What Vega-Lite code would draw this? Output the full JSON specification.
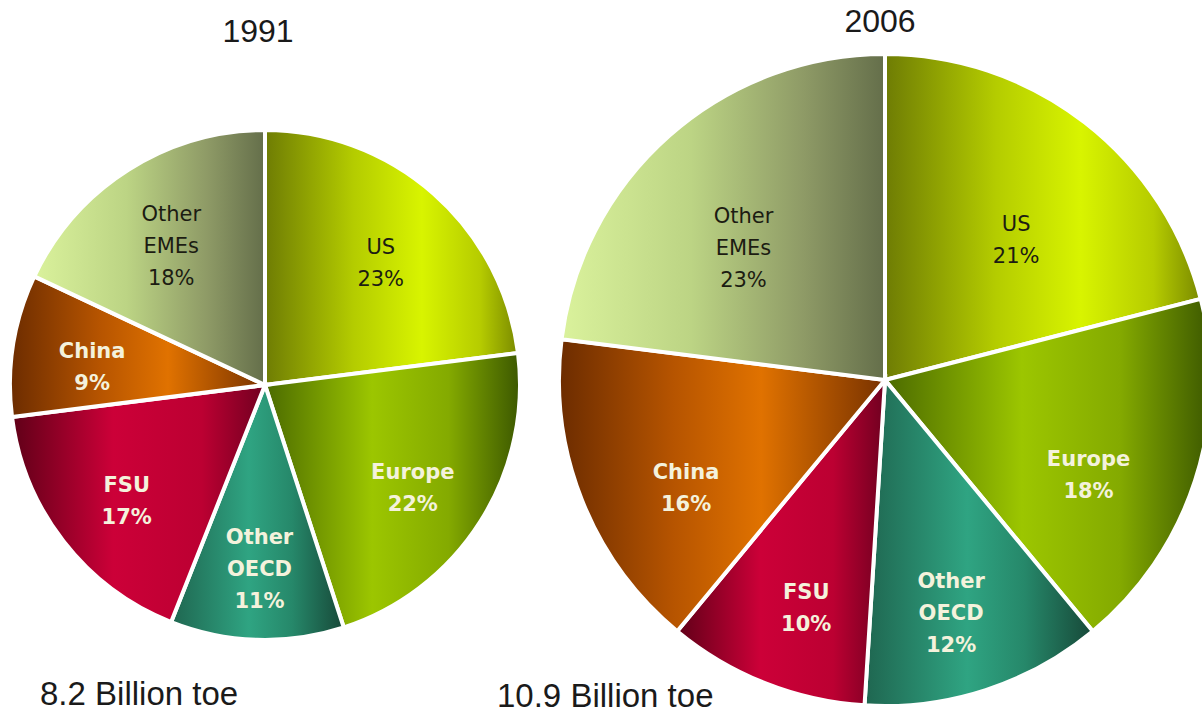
{
  "$schema": "https://vega.github.io/schema/vega-lite/v6.json",
  "width": 1202,
  "height": 713,
  "padding": 0,
  "autosize": {"type": "none"},
  "background": "white",
  "config": {"view": {"stroke": null}},
  "datasets": {
    "shares": [
      {"year": 1991, "total": 8.2, "order": 1, "region": "US", "share": 23, "label": "US\n23%"},
      {"year": 1991, "total": 8.2, "order": 2, "region": "Europe", "share": 22, "label": "Europe\n22%"},
      {"year": 1991, "total": 8.2, "order": 3, "region": "Other OECD", "share": 11, "label": "Other\nOECD\n11%"},
      {"year": 1991, "total": 8.2, "order": 4, "region": "FSU", "share": 17, "label": "FSU\n17%"},
      {"year": 1991, "total": 8.2, "order": 5, "region": "China", "share": 9, "label": "China\n9%"},
      {"year": 1991, "total": 8.2, "order": 6, "region": "Other EMEs", "share": 18, "label": "Other\nEMEs\n18%"},
      {"year": 2006, "total": 10.9, "order": 1, "region": "US", "share": 21, "label": "US\n21%"},
      {"year": 2006, "total": 10.9, "order": 2, "region": "Europe", "share": 18, "label": "Europe\n18%"},
      {"year": 2006, "total": 10.9, "order": 3, "region": "Other OECD", "share": 12, "label": "Other\nOECD\n12%"},
      {"year": 2006, "total": 10.9, "order": 4, "region": "FSU", "share": 10, "label": "FSU\n10%"},
      {"year": 2006, "total": 10.9, "order": 5, "region": "China", "share": 16, "label": "China\n16%"},
      {"year": 2006, "total": 10.9, "order": 6, "region": "Other EMEs", "share": 23, "label": "Other\nEMEs\n23%"}
    ],
    "totals": [
      {"year": 1991, "total": 8.2, "caption": "8.2 Billion toe"},
      {"year": 2006, "total": 10.9, "caption": "10.9 Billion toe"}
    ]
  },
  "data": {"name": "shares"},
  "layer": [
    {
      "transform": [
        {"stack": "share", "groupby": ["year"], "sort": [{"field": "order", "order": "ascending"}], "as": ["v0", "v1"]},
        {"filter": "datum.region === 'US'"}
      ],
      "mark": {"type": "arc", "stroke": "white", "strokeWidth": 4,
        "fill": {"gradient": "linear", "x1": 0, "y1": 0, "x2": 1, "y2": 0, "stops": [
          {"offset": 0, "color": "#6e7c04"}, {"offset": 0.35, "color": "#b4cc00"}, {"offset": 0.62, "color": "#d8f400"}, {"offset": 0.85, "color": "#b6cc00"}, {"offset": 1, "color": "#7a8a00"}]}},
      "encoding": {
        "x": {"field": "year", "type": "ordinal", "scale": {"type": "point", "domain": [1991, 2006], "range": [265, 885], "padding": 0}, "axis": null},
        "y": {"field": "year", "type": "ordinal", "scale": {"type": "point", "domain": [1991, 2006], "range": [385, 380], "padding": 0}, "axis": null},
        "theta": {"field": "v0", "type": "quantitative", "stack": null, "scale": {"domain": [0, 100]}},
        "theta2": {"field": "v1"},
        "radius": {"field": "total", "type": "quantitative", "stack": null, "scale": {"type": "linear", "zero": false, "domain": [8.2, 10.9], "range": [255, 326]}},
        "radius2": {"value": 0}
      }
    },
    {
      "transform": [
        {"stack": "share", "groupby": ["year"], "sort": [{"field": "order", "order": "ascending"}], "as": ["v0", "v1"]},
        {"filter": "datum.region === 'Europe'"}
      ],
      "mark": {"type": "arc", "stroke": "white", "strokeWidth": 4,
        "fill": {"gradient": "linear", "x1": 0, "y1": 0, "x2": 1, "y2": 0, "stops": [
          {"offset": 0, "color": "#4b6a00"}, {"offset": 0.42, "color": "#9cc600"}, {"offset": 0.72, "color": "#84aa00"}, {"offset": 1, "color": "#3c5800"}]}},
      "encoding": {
        "x": {"field": "year", "type": "ordinal", "scale": {"type": "point", "domain": [1991, 2006], "range": [265, 885], "padding": 0}, "axis": null},
        "y": {"field": "year", "type": "ordinal", "scale": {"type": "point", "domain": [1991, 2006], "range": [385, 380], "padding": 0}, "axis": null},
        "theta": {"field": "v0", "type": "quantitative", "stack": null, "scale": {"domain": [0, 100]}},
        "theta2": {"field": "v1"},
        "radius": {"field": "total", "type": "quantitative", "stack": null, "scale": {"type": "linear", "zero": false, "domain": [8.2, 10.9], "range": [255, 326]}},
        "radius2": {"value": 0}
      }
    },
    {
      "transform": [
        {"stack": "share", "groupby": ["year"], "sort": [{"field": "order", "order": "ascending"}], "as": ["v0", "v1"]},
        {"filter": "datum.region === 'Other OECD'"}
      ],
      "mark": {"type": "arc", "stroke": "white", "strokeWidth": 4,
        "fill": {"gradient": "linear", "x1": 0, "y1": 0, "x2": 1, "y2": 0, "stops": [
          {"offset": 0, "color": "#1f6650"}, {"offset": 0.45, "color": "#2fa482"}, {"offset": 0.7, "color": "#26886a"}, {"offset": 1, "color": "#174838"}]}},
      "encoding": {
        "x": {"field": "year", "type": "ordinal", "scale": {"type": "point", "domain": [1991, 2006], "range": [265, 885], "padding": 0}, "axis": null},
        "y": {"field": "year", "type": "ordinal", "scale": {"type": "point", "domain": [1991, 2006], "range": [385, 380], "padding": 0}, "axis": null},
        "theta": {"field": "v0", "type": "quantitative", "stack": null, "scale": {"domain": [0, 100]}},
        "theta2": {"field": "v1"},
        "radius": {"field": "total", "type": "quantitative", "stack": null, "scale": {"type": "linear", "zero": false, "domain": [8.2, 10.9], "range": [255, 326]}},
        "radius2": {"value": 0}
      }
    },
    {
      "transform": [
        {"stack": "share", "groupby": ["year"], "sort": [{"field": "order", "order": "ascending"}], "as": ["v0", "v1"]},
        {"filter": "datum.region === 'FSU'"}
      ],
      "mark": {"type": "arc", "stroke": "white", "strokeWidth": 4,
        "fill": {"gradient": "linear", "x1": 0, "y1": 0, "x2": 1, "y2": 0, "stops": [
          {"offset": 0, "color": "#600018"}, {"offset": 0.4, "color": "#cc0038"}, {"offset": 0.75, "color": "#bc0032"}, {"offset": 1, "color": "#700020"}]}},
      "encoding": {
        "x": {"field": "year", "type": "ordinal", "scale": {"type": "point", "domain": [1991, 2006], "range": [265, 885], "padding": 0}, "axis": null},
        "y": {"field": "year", "type": "ordinal", "scale": {"type": "point", "domain": [1991, 2006], "range": [385, 380], "padding": 0}, "axis": null},
        "theta": {"field": "v0", "type": "quantitative", "stack": null, "scale": {"domain": [0, 100]}},
        "theta2": {"field": "v1"},
        "radius": {"field": "total", "type": "quantitative", "stack": null, "scale": {"type": "linear", "zero": false, "domain": [8.2, 10.9], "range": [255, 326]}},
        "radius2": {"value": 0}
      }
    },
    {
      "transform": [
        {"stack": "share", "groupby": ["year"], "sort": [{"field": "order", "order": "ascending"}], "as": ["v0", "v1"]},
        {"filter": "datum.region === 'China'"}
      ],
      "mark": {"type": "arc", "stroke": "white", "strokeWidth": 4,
        "fill": {"gradient": "linear", "x1": 0, "y1": 0, "x2": 1, "y2": 0, "stops": [
          {"offset": 0, "color": "#6c2c00"}, {"offset": 0.35, "color": "#b65400"}, {"offset": 0.62, "color": "#e07200"}, {"offset": 1, "color": "#783200"}]}},
      "encoding": {
        "x": {"field": "year", "type": "ordinal", "scale": {"type": "point", "domain": [1991, 2006], "range": [265, 885], "padding": 0}, "axis": null},
        "y": {"field": "year", "type": "ordinal", "scale": {"type": "point", "domain": [1991, 2006], "range": [385, 380], "padding": 0}, "axis": null},
        "theta": {"field": "v0", "type": "quantitative", "stack": null, "scale": {"domain": [0, 100]}},
        "theta2": {"field": "v1"},
        "radius": {"field": "total", "type": "quantitative", "stack": null, "scale": {"type": "linear", "zero": false, "domain": [8.2, 10.9], "range": [255, 326]}},
        "radius2": {"value": 0}
      }
    },
    {
      "transform": [
        {"stack": "share", "groupby": ["year"], "sort": [{"field": "order", "order": "ascending"}], "as": ["v0", "v1"]},
        {"filter": "datum.region === 'Other EMEs'"}
      ],
      "mark": {"type": "arc", "stroke": "white", "strokeWidth": 4,
        "fill": {"gradient": "linear", "x1": 0, "y1": 0, "x2": 1, "y2": 0, "stops": [
          {"offset": 0, "color": "#daf29c"}, {"offset": 0.4, "color": "#bcd484"}, {"offset": 0.75, "color": "#8e9a66"}, {"offset": 1, "color": "#646e4a"}]}},
      "encoding": {
        "x": {"field": "year", "type": "ordinal", "scale": {"type": "point", "domain": [1991, 2006], "range": [265, 885], "padding": 0}, "axis": null},
        "y": {"field": "year", "type": "ordinal", "scale": {"type": "point", "domain": [1991, 2006], "range": [385, 380], "padding": 0}, "axis": null},
        "theta": {"field": "v0", "type": "quantitative", "stack": null, "scale": {"domain": [0, 100]}},
        "theta2": {"field": "v1"},
        "radius": {"field": "total", "type": "quantitative", "stack": null, "scale": {"type": "linear", "zero": false, "domain": [8.2, 10.9], "range": [255, 326]}},
        "radius2": {"value": 0}
      }
    },
    {
      "mark": {"type": "text", "font": "DejaVu Sans", "fontSize": 21, "lineHeight": 32, "align": "center", "baseline": "middle", "lineBreak": "\n",
        "fontWeight": {"expr": "datum.region === 'US' || datum.region === 'Other EMEs' ? 'normal' : 'bold'"},
        "dy": {"expr": "datum.region === 'Other OECD' || datum.region === 'Other EMEs' ? -32 : -16"}},
      "encoding": {
        "x": {"field": "year", "type": "ordinal", "scale": {"type": "point", "domain": [1991, 2006], "range": [265, 885], "padding": 0}, "axis": null},
        "y": {"field": "year", "type": "ordinal", "scale": {"type": "point", "domain": [1991, 2006], "range": [395, 410], "padding": 0}, "axis": null},
        "theta": {"field": "share", "type": "quantitative", "stack": true, "scale": {"domain": [0, 100]}},
        "radius": {"field": "total", "type": "quantitative", "stack": null, "scale": {"type": "linear", "zero": false, "domain": [8.2, 10.9], "range": [175, 214]}},
        "detail": {"field": "region", "type": "nominal"},
        "order": {"field": "order", "type": "quantitative"},
        "text": {"field": "label", "type": "nominal"},
        "color": {"condition": {"test": "datum.region === 'US' || datum.region === 'Other EMEs'", "value": "#1c1c12"}, "value": "#f4f2dc"}
      }
    },
    {
      "data": {"name": "totals"},
      "mark": {"type": "text", "font": "Liberation Sans", "fontSize": 32, "align": "center", "baseline": "alphabetic", "color": "#1a1a1a"},
      "encoding": {
        "x": {"field": "year", "type": "ordinal", "scale": {"type": "point", "domain": [1991, 2006], "range": [258, 880], "padding": 0}, "axis": null},
        "y": {"field": "year", "type": "ordinal", "scale": {"type": "point", "domain": [1991, 2006], "range": [42, 32], "padding": 0}, "axis": null},
        "text": {"field": "year", "type": "nominal"}
      }
    },
    {
      "data": {"name": "totals"},
      "mark": {"type": "text", "font": "Liberation Sans", "fontSize": 33, "align": "left", "baseline": "alphabetic", "color": "#1a1a1a"},
      "encoding": {
        "x": {"field": "year", "type": "ordinal", "scale": {"type": "point", "domain": [1991, 2006], "range": [40, 497], "padding": 0}, "axis": null},
        "y": {"field": "year", "type": "ordinal", "scale": {"type": "point", "domain": [1991, 2006], "range": [705, 707], "padding": 0}, "axis": null},
        "text": {"field": "caption", "type": "nominal"}
      }
    }
  ],
  "resolve": {"scale": {"x": "independent", "y": "independent", "radius": "independent", "theta": "independent"}}
}
